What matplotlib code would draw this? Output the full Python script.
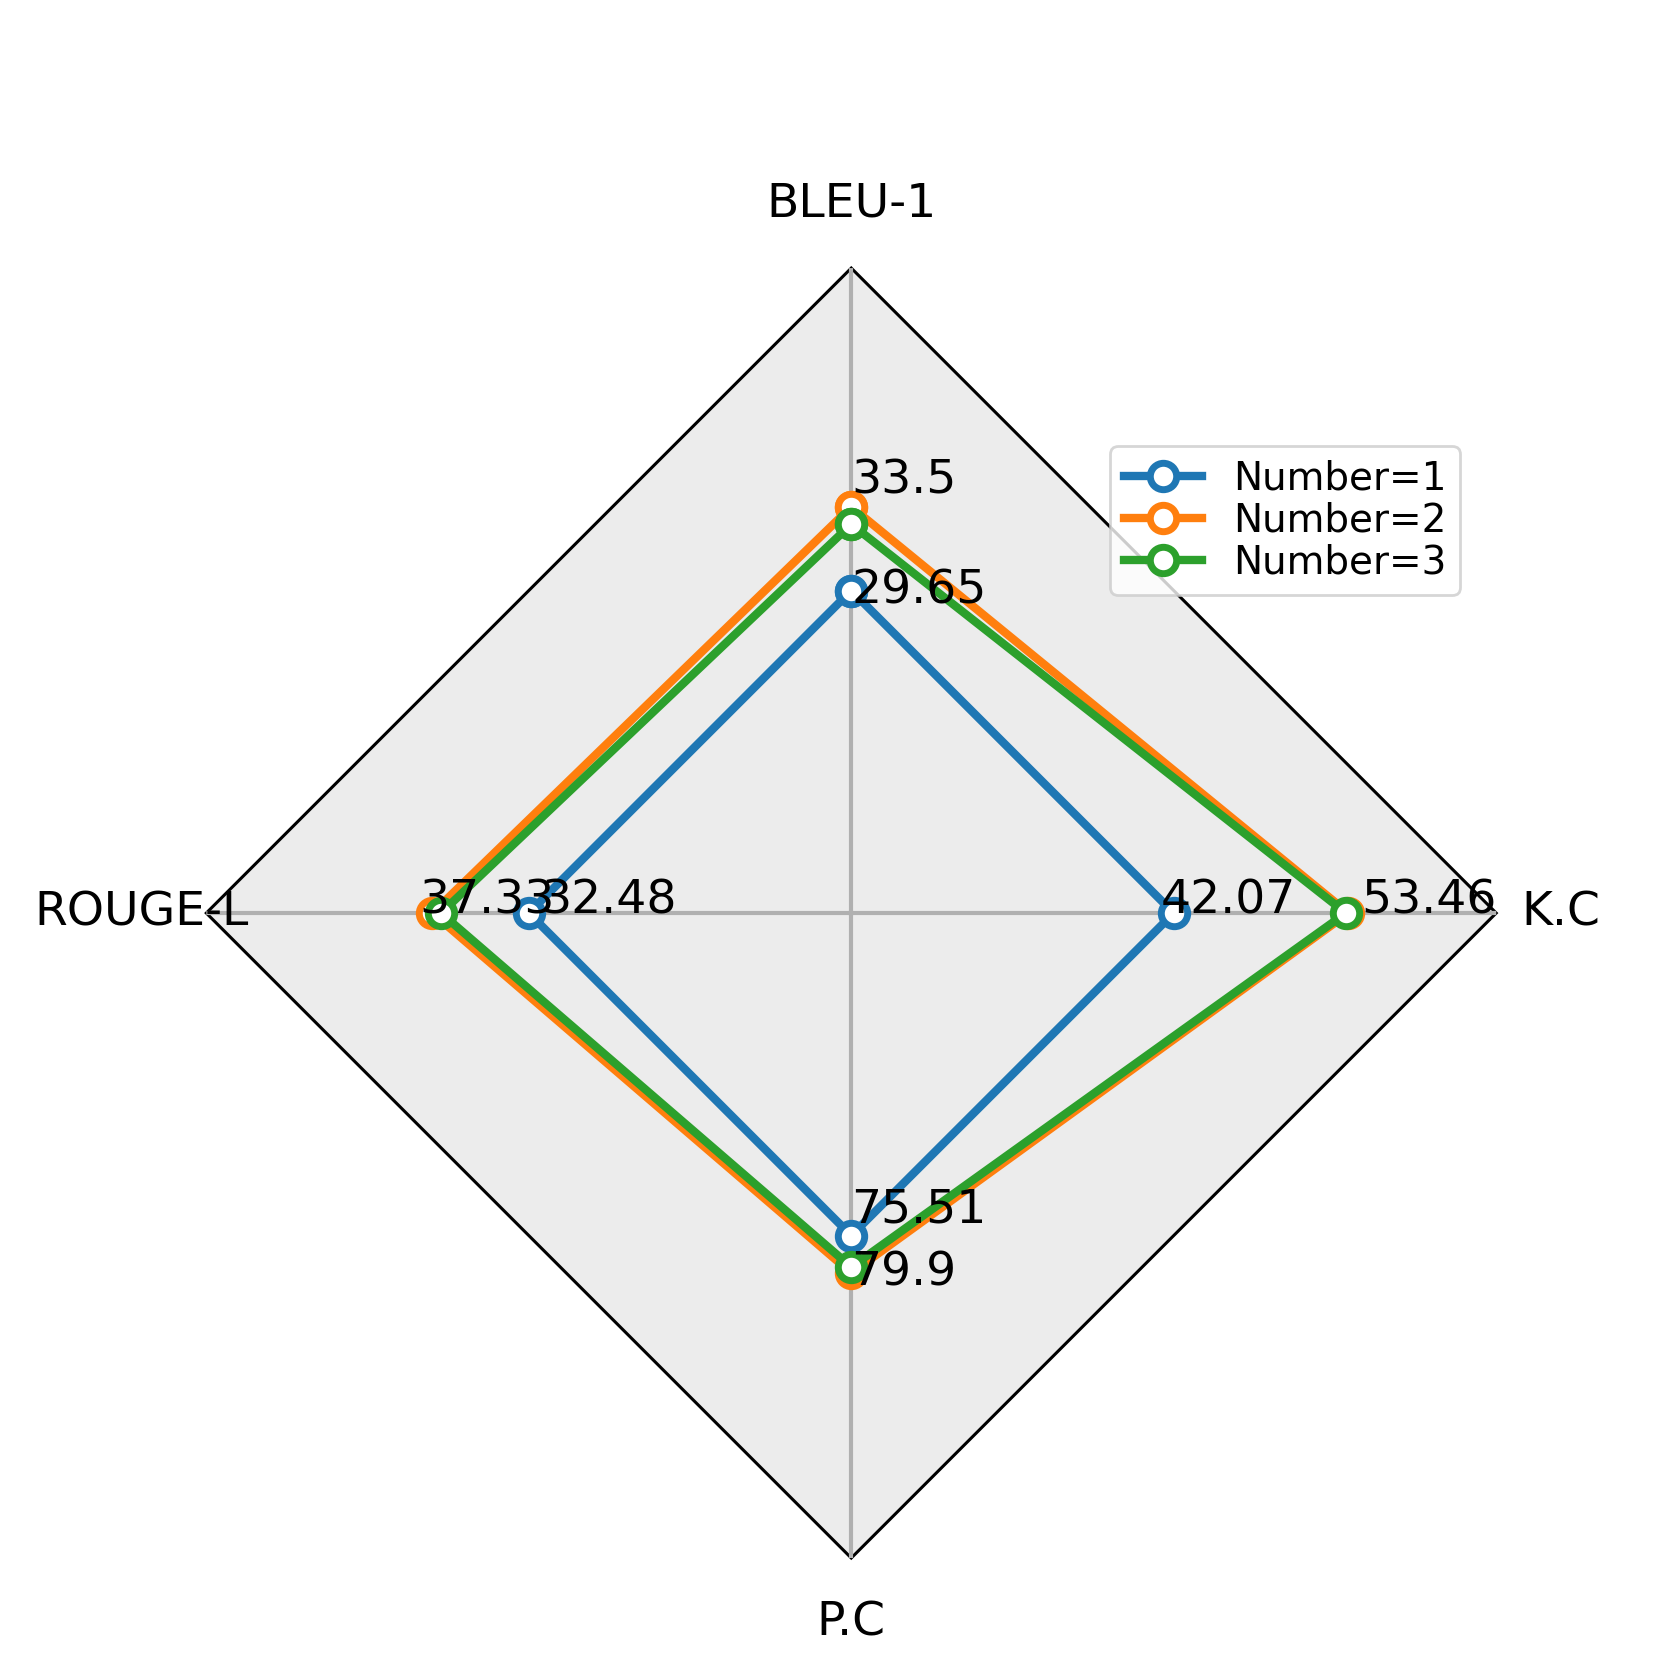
import numpy as np
import matplotlib
matplotlib.use("Agg")
import matplotlib.pyplot as plt

categories = ["BLEU-1", "K.C", "P.C", "ROUGE-L"]
series_names = ["Number=1", "Number=2", "Number=3"]
number1 = [29.65, 42.07, 75.51, 32.48]
number2 = [33.5, 53.46, 79.9, 37.33]
number3 = [32.7, 53.3, 79.2, 36.9]
annotated = [True, True, False]
colors = ["#1f77b4", "#ff7f0e", "#2ca02c"]

values = [np.array(number1), np.array(number2), np.array(number3)]
base = values[0]
rmin, rmax = 0.5, 1.5

fig = plt.figure(figsize=(8.305, 8.305), dpi=200)
ax = fig.add_axes([0.1242, 0.0620, 0.7766, 0.7766], projection="polar")
ax.set_theta_offset(np.pi / 2)
ax.set_theta_direction(-1)

n = len(categories)
angles = np.linspace(0, 2 * np.pi, n, endpoint=False)
ang_c = np.concatenate([angles, angles[:1]])

ax.set_ylim(rmin, rmax)
ax.set_yticks([])
ax.set_xticks(angles)
ax.set_xticklabels([])
ax.tick_params(axis="x", length=0)
ax.grid(True, color="#b0b0b0", lw=1.5)
ax.spines["polar"].set_visible(False)
ax.patch.set_visible(False)

# polygon frame
ax.fill(ang_c, [rmax] * (n + 1), facecolor="#ececec", edgecolor="black",
        lw=1.1, zorder=0, clip_on=False)

for i, (vals, name) in enumerate(zip(values, series_names)):
    ratio = vals / base
    rc = np.concatenate([ratio, ratio[:1]])
    ax.plot(ang_c, rc, color=colors[i], lw=3, marker="o", ms=9.5,
            mfc="white", mec=colors[i], mew=2.5, label=name, zorder=3 + i,
            clip_on=False)

for i, vals in enumerate(values):
    if not annotated[i]:
        continue
    ratio = vals / base
    off = -0.02 if i == 0 else 0.02
    for a, r, v in zip(angles, ratio, vals):
        ax.text(a, r + off, f"{v:g}", fontsize=17, ha="left", va="baseline",
                zorder=10, clip_on=False)

for a, lab in zip(angles, categories):
    ax.text(a, rmin + 1.1 * (rmax - rmin), lab, fontsize=17, ha="center",
            va="center", clip_on=False)

ax.legend(loc="upper right", bbox_to_anchor=(1460 / 1661, 1 - 446 / 1661),
          bbox_transform=fig.transFigure, fontsize=14, borderaxespad=0,
          labelspacing=0.1, borderpad=0.35)

fig.savefig("out.png", dpi=200)
